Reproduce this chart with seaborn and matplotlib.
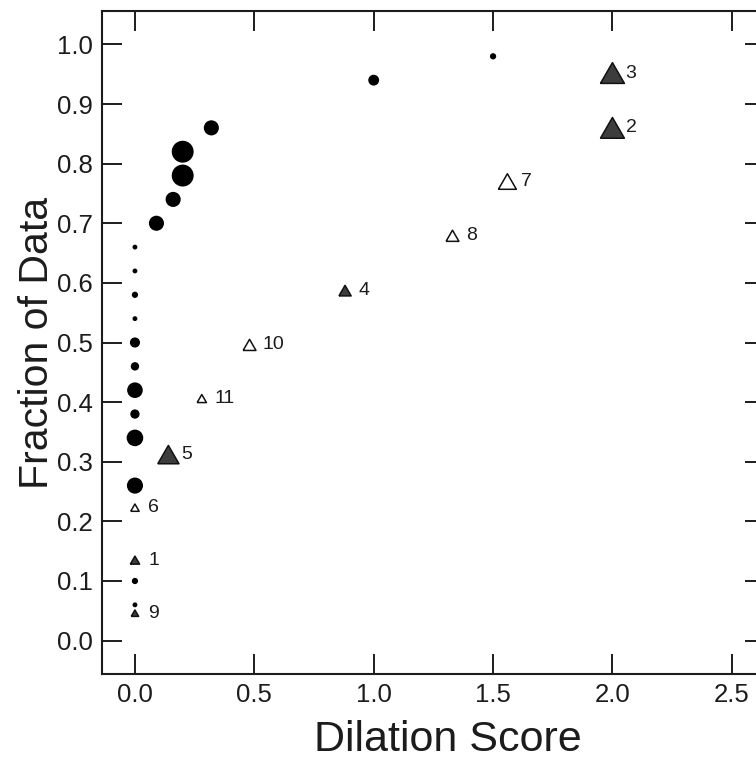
import matplotlib
matplotlib.use("Agg")
import matplotlib.pyplot as plt
import seaborn as sns
import pandas as pd

# circles: every case, marker area ~ number of cases
circle_score = [0.0, 0.0, 0.0, 0.0, 0.0, 0.0, 0.0, 0.0, 0.0, 0.0, 0.0, 0.0,
                0.09, 0.16, 0.2, 0.2, 0.32, 1.0, 1.5]
circle_frac = [0.06, 0.10, 0.26, 0.34, 0.38, 0.42, 0.46, 0.50, 0.54, 0.58, 0.62, 0.66,
               0.70, 0.74, 0.78, 0.82, 0.86, 0.94, 0.98]
circle_n = [1, 2, 16, 17, 5, 15, 4, 6, 1, 2, 1, 1,
            14, 14, 30, 30, 14, 7, 2]

# numbered triangles
tri_label = ["9", "1", "6", "5", "11", "10", "4", "8", "7", "2", "3"]
tri_score = [0.0, 0.0, 0.0, 0.14, 0.28, 0.48, 0.88, 1.33, 1.56, 2.0, 2.0]
tri_frac = [0.046, 0.135, 0.223, 0.312, 0.406, 0.496, 0.587, 0.679, 0.770, 0.860, 0.952]
tri_n = [3, 5, 4, 28, 5, 10, 9, 10, 20, 36, 36]
tri_kind = ["filled", "filled", "open", "filled", "open", "open",
            "filled", "open", "open", "filled", "filled"]

x_ticks = [0.0, 0.5, 1.0, 1.5, 2.0, 2.5]
y_ticks = [0.0, 0.1, 0.2, 0.3, 0.4, 0.5, 0.6, 0.7, 0.8, 0.9, 1.0]

sns.set_style("ticks")
plt.rcParams["font.family"] = ["Liberation Sans", "DejaVu Sans"]
ink = "#1c1c1c"

df_c = pd.DataFrame({"score": circle_score, "frac": circle_frac, "n": circle_n})
df_t = pd.DataFrame({"score": tri_score, "frac": tri_frac, "n": tri_n,
                     "kind": tri_kind, "label": tri_label})

fig = plt.figure(figsize=(7.56, 7.62), dpi=100)
ax = fig.add_axes([102 / 756, 1 - 674 / 762, 663 / 756, 663 / 762])

size_kw = dict(size="n", sizes=(4, 298), size_norm=(0, 36), legend=False)

sns.scatterplot(data=df_c, x="score", y="frac", color="black", marker="o",
                edgecolor="none", linewidth=0, ax=ax, **size_kw)

# equilateral-ish triangle marker
tri_marker = [(-1, -0.866), (1, -0.866), (0, 0.866), (-1, -0.866)]
sns.scatterplot(data=df_t, x="score", y="frac", hue="kind",
                palette={"filled": "#3d3d3d", "open": "white"},
                marker=tri_marker, edgecolor="#111111", linewidth=1.1,
                ax=ax, zorder=3, **size_kw)

for _, r in df_t.iterrows():
    ax.annotate(r["label"], (r["score"], r["frac"]), xytext=(9.5, 0),
                textcoords="offset points", ha="left", va="center",
                fontsize=14, color=ink)

ax.set_xlim(-0.138, 2.639)
ax.set_ylim(-0.056, 1.056)
ax.set_xticks(x_ticks)
ax.set_yticks(y_ticks)
ax.set_xticklabels([f"{v:.1f}" for v in x_ticks])
ax.set_yticklabels([f"{v:.1f}" for v in y_ticks])
ax.tick_params(direction="in", length=14.5, width=1.4, top=True, right=True,
               labelsize=18.5, pad=6.5, color=ink, labelcolor=ink)
for sp in ax.spines.values():
    sp.set_visible(True)
    sp.set_linewidth(1.5)
    sp.set_color(ink)

ax.set_xlabel("Dilation Score", fontsize=31, color=ink)
ax.set_ylabel("Fraction of Data", fontsize=29.5, color=ink, labelpad=1)
ax.xaxis.set_label_coords(0.522, -0.069)

fig.savefig("out.png", dpi=100)
